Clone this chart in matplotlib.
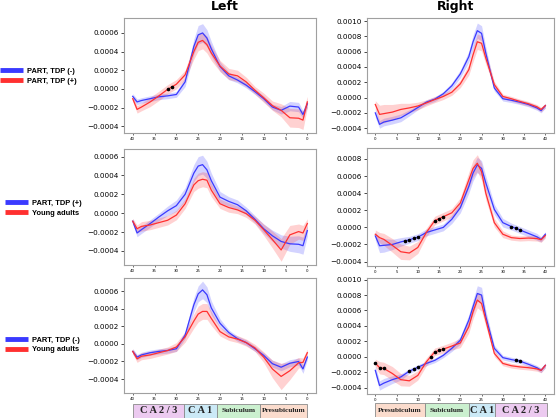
import matplotlib
matplotlib.use("Agg")
import matplotlib.pyplot as plt
from matplotlib.lines import Line2D
from matplotlib.ticker import MultipleLocator, FuncFormatter
import numpy as np

# sample positions along the hippocampal axis
pos = [0, 1, 2, 4, 6, 8, 10, 12, 14, 16, 18, 20, 22, 23, 24, 25, 26, 28, 30, 32, 34, 36, 38, 39, 40]

# values in units of 1e-4
lt_blue = [-1.6, -2.75, -1.95, -1.85, -2.3, -1.95, -1.05, -0.3, 0.4, 0.95, 1.4, 2.4, 4.3, 5.45, 6.0, 5.8, 4.55, 0.75, -0.6, -0.75, -0.85, -1.05, -1.25, -1.4, -0.8]
lt_blue_sd = [0.4, 0.4, 0.5, 0.5, 0.4, 0.3, 0.3, 0.3, 0.3, 0.3, 0.4, 0.5, 0.8, 0.9, 1.0, 1.0, 0.8, 0.5, 0.3, 0.3, 0.3, 0.3, 0.3, 0.3, 0.3]
lt_red = [-1.4, -3.35, -3.15, -3.1, -2.3, -1.8, -0.95, -0.15, 0.75, 1.4, 1.6, 2.45, 3.85, 4.75, 5.2, 5.0, 4.0, 1.5, 0.5, -0.05, -0.75, -1.4, -1.95, -2.2, -1.05]
lt_red_sd = [0.6, 1.0, 1.0, 1.0, 0.7, 0.5, 0.5, 0.4, 0.5, 0.6, 0.6, 0.6, 0.8, 0.9, 0.9, 0.9, 0.8, 0.5, 0.5, 0.5, 0.5, 0.5, 0.4, 0.4, 0.3]

lm_blue = [-1.85, -3.45, -3.3, -3.25, -3.0, -2.4, -1.65, -0.65, 0.25, 0.9, 1.25, 1.7, 3.45, 4.6, 5.15, 5.0, 4.25, 2.0, 0.8, 0.25, -0.4, -1.1, -1.75, -2.1, -0.85]
lm_blue_sd = [0.6, 0.9, 0.9, 0.8, 0.7, 0.6, 0.5, 0.4, 0.4, 0.5, 0.5, 0.6, 0.8, 0.9, 1.0, 1.0, 0.9, 0.7, 0.6, 0.5, 0.4, 0.4, 0.4, 0.4, 0.3]
lm_red = [-1.1, -2.1, -1.95, -2.3, -3.9, -2.8, -1.75, -0.75, -0.05, 0.35, 0.6, 1.0, 2.45, 3.5, 3.6, 3.45, 3.0, 1.0, -0.2, -0.75, -1.0, -1.25, -1.4, -1.65, -0.85]
lm_red_sd = [0.5, 0.8, 0.8, 1.0, 1.2, 0.9, 0.6, 0.4, 0.4, 0.4, 0.5, 0.5, 0.7, 0.8, 0.8, 0.8, 0.7, 0.5, 0.5, 0.5, 0.5, 0.5, 0.5, 0.4, 0.3]

lb_blue = [-1.5, -2.85, -2.0, -2.2, -2.65, -2.25, -1.3, -0.55, 0.15, 0.6, 1.3, 2.35, 4.1, 5.6, 6.15, 5.7, 4.45, 1.0, -0.55, -0.75, -0.85, -1.0, -1.25, -1.5, -0.85]
lb_blue_sd = [0.3, 0.5, 0.4, 0.4, 0.4, 0.4, 0.3, 0.3, 0.3, 0.3, 0.3, 0.5, 0.8, 0.9, 1.0, 0.9, 0.8, 0.4, 0.3, 0.3, 0.3, 0.3, 0.3, 0.3, 0.3]
lb_red = [-1.0, -2.1, -2.15, -3.05, -3.7, -2.85, -1.5, -0.45, 0.15, 0.55, 0.8, 1.4, 2.9, 3.7, 3.7, 3.4, 2.6, 0.8, -0.35, -0.75, -1.0, -1.25, -1.4, -1.7, -0.85]
lb_red_sd = [0.4, 0.5, 0.6, 1.0, 1.5, 1.0, 0.6, 0.4, 0.4, 0.4, 0.4, 0.5, 0.8, 0.9, 0.9, 0.9, 0.8, 0.6, 0.5, 0.4, 0.4, 0.4, 0.4, 0.4, 0.3]

rt_blue = [-2.0, -3.5, -3.2, -2.95, -2.65, -2.0, -1.3, -0.6, -0.2, 0.5, 1.55, 3.1, 5.35, 7.3, 8.75, 8.4, 5.8, 1.25, -0.15, -0.35, -0.6, -0.9, -1.35, -1.7, -1.05]
rt_blue_sd = [0.6, 0.5, 0.5, 0.5, 0.5, 0.4, 0.3, 0.3, 0.3, 0.3, 0.4, 0.5, 0.7, 0.9, 1.0, 1.0, 0.8, 0.4, 0.3, 0.3, 0.3, 0.3, 0.3, 0.3, 0.3]
rt_red = [-0.9, -2.2, -2.1, -1.9, -1.55, -1.35, -1.1, -0.7, -0.25, 0.15, 0.7, 1.8, 3.65, 5.6, 7.3, 7.1, 5.15, 1.7, 0.15, -0.15, -0.5, -0.8, -1.2, -1.55, -1.05]
rt_red_sd = [0.5, 1.2, 1.2, 1.0, 0.8, 0.6, 0.5, 0.4, 0.4, 0.4, 0.4, 0.5, 0.7, 0.9, 1.0, 1.0, 0.8, 0.4, 0.3, 0.3, 0.3, 0.3, 0.3, 0.3, 0.3]

rm_blue = [-1.0, -2.15, -2.1, -2.0, -1.7, -1.45, -1.15, -0.6, -0.3, 0.0, 0.95, 2.3, 4.8, 6.35, 7.3, 6.9, 5.2, 2.1, 0.55, 0.1, -0.3, -0.7, -1.1, -1.4, -0.8]
rm_blue_sd = [0.5, 0.8, 0.8, 0.6, 0.5, 0.4, 0.4, 0.4, 0.4, 0.4, 0.5, 0.6, 0.8, 0.9, 0.9, 0.9, 0.8, 0.6, 0.5, 0.4, 0.4, 0.4, 0.4, 0.3, 0.3]
rm_red = [-0.8, -1.2, -1.4, -2.1, -2.85, -3.0, -2.35, -0.6, 0.8, 1.25, 1.7, 2.85, 5.55, 6.9, 7.5, 6.5, 4.0, 0.55, -0.8, -1.2, -1.3, -1.25, -1.3, -1.45, -0.95]
rm_red_sd = [0.5, 0.6, 0.7, 0.8, 0.9, 0.8, 0.7, 0.5, 0.5, 0.5, 0.5, 0.6, 0.9, 1.0, 1.0, 1.0, 0.8, 0.5, 0.4, 0.3, 0.3, 0.3, 0.3, 0.3, 0.3]

rb_blue = [-1.75, -3.7, -3.4, -2.95, -2.6, -1.85, -1.35, -0.85, -0.45, 0.2, 1.1, 2.15, 4.75, 6.5, 8.2, 8.0, 5.2, 1.1, -0.1, -0.35, -0.55, -0.95, -1.4, -1.75, -1.1]
rb_blue_sd = [0.6, 0.6, 0.6, 0.5, 0.4, 0.3, 0.3, 0.3, 0.3, 0.3, 0.4, 0.5, 0.7, 0.9, 1.0, 1.0, 0.8, 0.4, 0.3, 0.3, 0.3, 0.3, 0.3, 0.3, 0.3]
rb_red = [-0.8, -1.4, -1.5, -2.15, -2.95, -3.1, -2.4, -0.65, 0.65, 1.0, 1.4, 1.8, 3.9, 5.85, 7.35, 6.9, 4.75, 0.45, -0.85, -1.15, -1.3, -1.4, -1.55, -1.75, -1.1]
rb_red_sd = [0.5, 0.8, 0.8, 0.9, 0.8, 0.7, 0.6, 0.5, 0.5, 0.5, 0.5, 0.6, 0.8, 0.9, 1.0, 1.0, 0.8, 0.4, 0.3, 0.3, 0.3, 0.3, 0.3, 0.3, 0.3]

# significant positions (black dots)
lt_sig = [31, 32]
rm_sig = [7, 8, 9, 10, 14, 15, 16, 32, 33, 34]
rb_sig = [0, 1, 2, 8, 9, 10, 13, 14, 15, 16, 33, 34]

legend_top = ["PART, TDP (-)", "PART, TDP (+)"]
legend_mid = ["PART, TDP (+)", "Young adults"]
legend_bot = ["PART, TDP (-)", "Young adults"]

left_regions = ["C A 2 / 3", "C A 1", "Subiculum", "Presubiculum"]
left_bounds = [40, 28.3, 20.8, 10.8, 0]
right_regions = ["Presubiculum", "Subiculum", "C A 1", "C A 2 / 3"]
right_bounds = [0, 11.7, 22.0, 28.2, 40.3]
region_colors = {"C A 2 / 3": "#eccaf0", "C A 1": "#cbe9f6",
                 "Subiculum": "#cbf0cf", "Presubiculum": "#fbdccd"}

BLUE = "#3a3aff"
RED = "#ff3030"

fig = plt.figure(figsize=(5.6, 4.2), dpi=100)

minus_fmt = FuncFormatter(lambda v, p: ("%.4f" % v).replace("-", "\u2212"))


def panel(rect, blue, blue_sd, red, red_sd, ylim, reverse, sig=None):
    ax = fig.add_axes(rect)
    x = np.array(pos)
    for m, s, c in [(blue, blue_sd, BLUE), (red, red_sd, RED)]:
        m = np.array(m) * 1e-4
        s = np.array(s) * 1e-4
        ax.fill_between(x, m - s, m + s, color=c, alpha=0.22, lw=0)
        ax.plot(x, m, color=c, lw=0.9)
    if sig:
        top = np.maximum(np.array(blue), np.array(red)) * 1e-4
        ax.plot(sig, np.interp(sig, x, top), "o", color="black", ms=1.6)
    ax.set_xlim(-2, 42)
    if reverse:
        ax.invert_xaxis()
    ax.set_ylim(*ylim)
    ax.set_xticks(range(0, 41, 5))
    ax.yaxis.set_major_locator(MultipleLocator(0.0002))
    ax.yaxis.set_major_formatter(minus_fmt)
    ax.tick_params(axis="x", labelsize=2.8, length=1.5, width=0.4, pad=1.5)
    ax.tick_params(axis="y", labelsize=5.2, length=2, width=0.5, pad=1.5)
    for sp in ax.spines.values():
        sp.set_color("#a0a0a0")
        sp.set_linewidth(0.8)
    return ax


panel([0.2214, 0.683, 0.343, 0.274], lt_blue, lt_blue_sd, lt_red, lt_red_sd,
      (-0.000475, 0.00076), True, lt_sig)
panel([0.2214, 0.369, 0.343, 0.276], lm_blue, lm_blue_sd, lm_red, lm_red_sd,
      (-0.00055, 0.00068), True)
panel([0.2214, 0.064, 0.343, 0.274], lb_blue, lb_blue_sd, lb_red, lb_red_sd,
      (-0.00056, 0.00075), True)
panel([0.655, 0.683, 0.334, 0.274], rt_blue, rt_blue_sd, rt_red, rt_red_sd,
      (-0.000465, 0.00104), False)
panel([0.655, 0.367, 0.334, 0.281], rm_blue, rm_blue_sd, rm_red, rm_red_sd,
      (-0.00045, 0.00093), False, rm_sig)
panel([0.655, 0.062, 0.334, 0.276], rb_blue, rb_blue_sd, rb_red, rb_red_sd,
      (-0.00048, 0.00102), False, rb_sig)

fig.text(0.402, 0.984, "Left", ha="center", va="center", fontsize=9, fontweight="bold")
fig.text(0.813, 0.984, "Right", ha="center", va="center", fontsize=9, fontweight="bold")

# legends on the left margin
for labels, yc, x0 in [(legend_top, 0.819, -0.012), (legend_mid, 0.504, -0.003), (legend_bot, 0.179, -0.003)]:
    handles = [Line2D([], [], color=BLUE, lw=3.5, solid_capstyle="butt"),
               Line2D([], [], color=RED, lw=3.5, solid_capstyle="butt")]
    fig.legend(handles, labels, loc="center left", bbox_to_anchor=(x0, yc),
               frameon=False, handlelength=3.0, handletextpad=0.6,
               labelspacing=0.35,
               prop=dict(family="Liberation Sans", size=5.4, weight="bold"))


def region_bar(rect, names, bounds, reverse):
    ax = fig.add_axes(rect)
    for i, name in enumerate(names):
        a, b = bounds[i], bounds[i + 1]
        ax.barh(0, b - a, left=a, height=1, color=region_colors[name],
                edgecolor="#8a8a8a", lw=0.6)
        small = name in ("Subiculum", "Presubiculum")
        ax.text((a + b) / 2, 0, name, ha="center", va="center",
                family="Liberation Serif", fontweight="bold",
                fontsize=5.3 if small else 7.5, color="#222222")
    ax.set_xlim(-2, 42)
    if reverse:
        ax.invert_xaxis()
    ax.set_ylim(-0.5, 0.5)
    ax.axis("off")


region_bar([0.2214, 0.005, 0.343, 0.033], left_regions, left_bounds, True)
region_bar([0.655, 0.007, 0.334, 0.033], right_regions, right_bounds, False)

fig.savefig("out.png", dpi=100)
